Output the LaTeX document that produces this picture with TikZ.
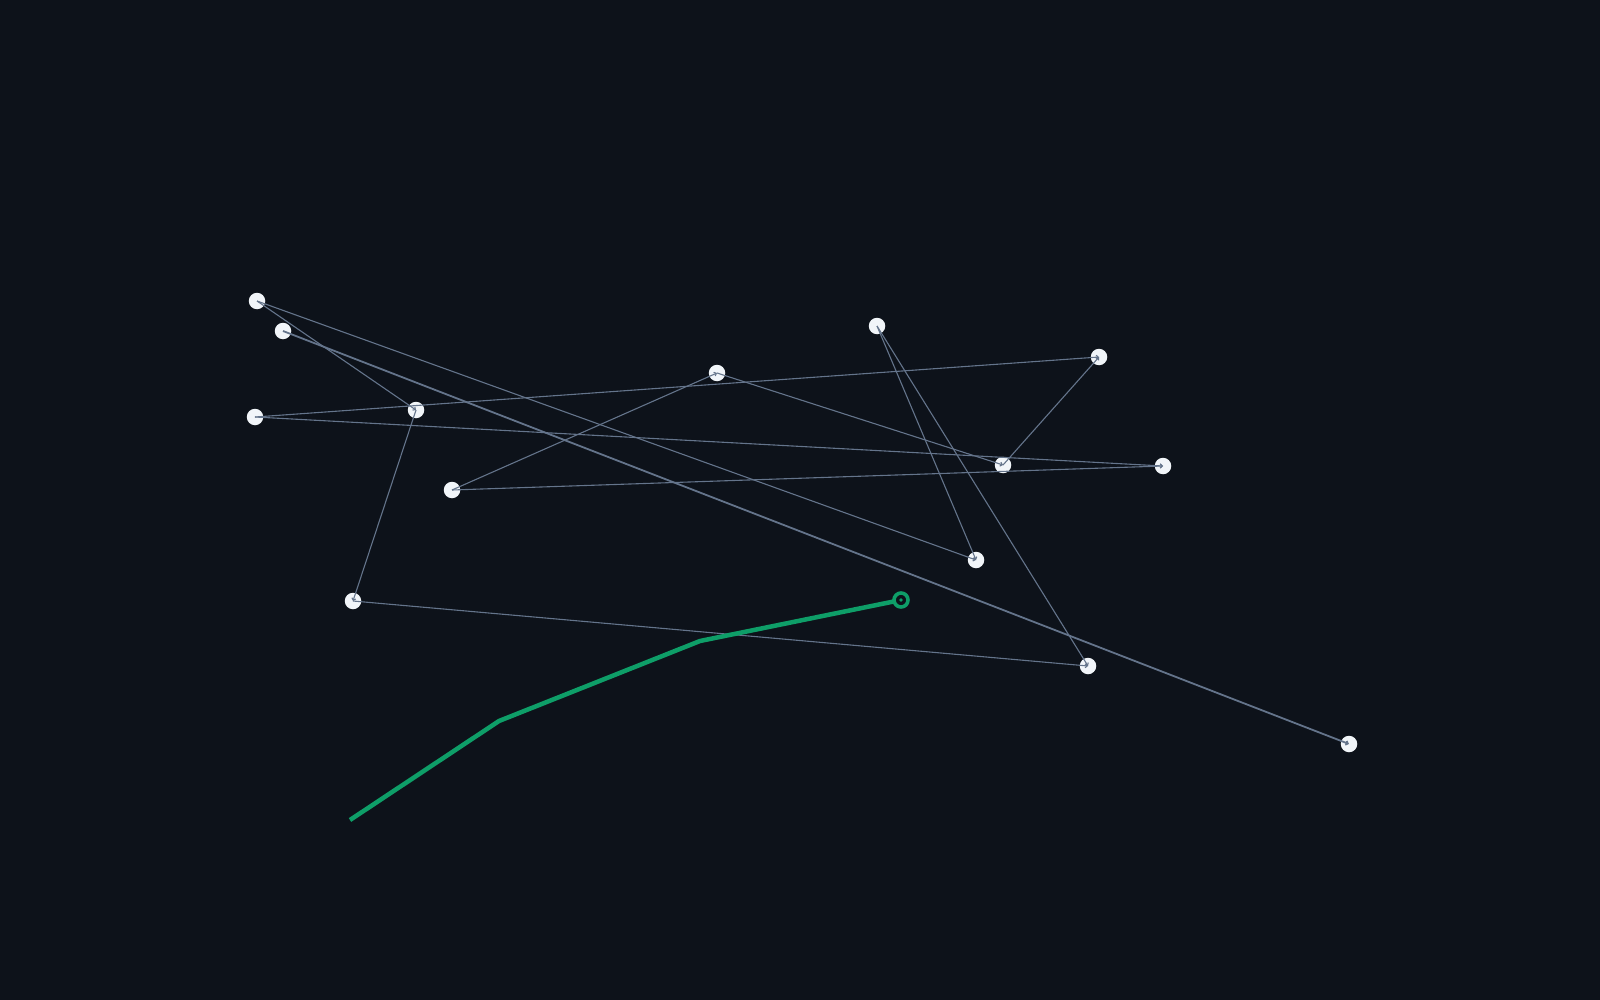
\documentclass[tikz,border=0pt]{standalone}
\usetikzlibrary{arrows.meta}
\definecolor{bgc}{RGB}{13,18,26}
\definecolor{edgec}{RGB}{100,116,139}
\definecolor{nodec}{RGB}{241,245,249}
\definecolor{greenc}{RGB}{14,158,104}
\tikzset{
  pt/.style={circle,fill=nodec,draw=none,minimum size=16.5pt,inner sep=0pt},
  link/.style={draw=edgec,line width=1.1pt,-{Straight Barb[length=2pt,width=4pt]}},
  wide/.style={link,line width=1.8pt},
  trail/.style={draw=greenc,line width=4.5pt,line join=round},
}
\begin{document}
\begin{tikzpicture}[x=1pt,y=-1pt]
\fill[bgc] (0,0) rectangle (1600,1000);
\useasboundingbox (0,0) rectangle (1600,1000);
\node[pt] (A) at (257,301) {};
\node[pt] (B) at (283,331) {};
\node[pt] (C) at (255,417) {};
\node[pt] (D) at (416,410) {};
\node[pt] (E) at (877,326) {};
\node[pt] (F) at (1099,357) {};
\node[pt] (G) at (1003,465) {};
\node[pt] (H) at (353,601) {};
\node[pt] (I) at (1088,666) {};
\node[pt] (J) at (1349,744) {};
\node[pt] (K) at (976,560) {};
\node[pt] (L) at (452,490) {};
\node[pt] (M) at (717,373) {};
\node[pt] (N) at (1163,466) {};
\path[link] (A.center) -- (K.center);
\path[link] (A.center) -- (D.center);
\path[wide] (B.center) -- (J.center);
\path[link] (C.center) -- (F.center);
\path[link] (C.center) -- (N.center);
\path[link] (D.center) -- (H.center);
\path[link] (H.center) -- (I.center);
\path[link] (L.center) -- (M.center);
\path[link] (M.center) -- (G.center);
\path[link] (L.center) -- (N.center);
\path[link] (E.center) -- (K.center);
\path[link] (E.center) -- (I.center);
\path[link] (G.center) -- (F.center);
\coordinate (P0) at (350,820);
\coordinate (P1) at (499,721);
\coordinate (P2) at (700,641);
\coordinate (P3) at (901,600);
\path[trail] (P0) -- (P1) -- (P2) -- (P3);
\draw[greenc,line width=3.6pt,fill=bgc] (P3) circle[radius=7pt];
\fill[greenc] (P3) circle[radius=1.8pt];
\end{tikzpicture}
\end{document}
